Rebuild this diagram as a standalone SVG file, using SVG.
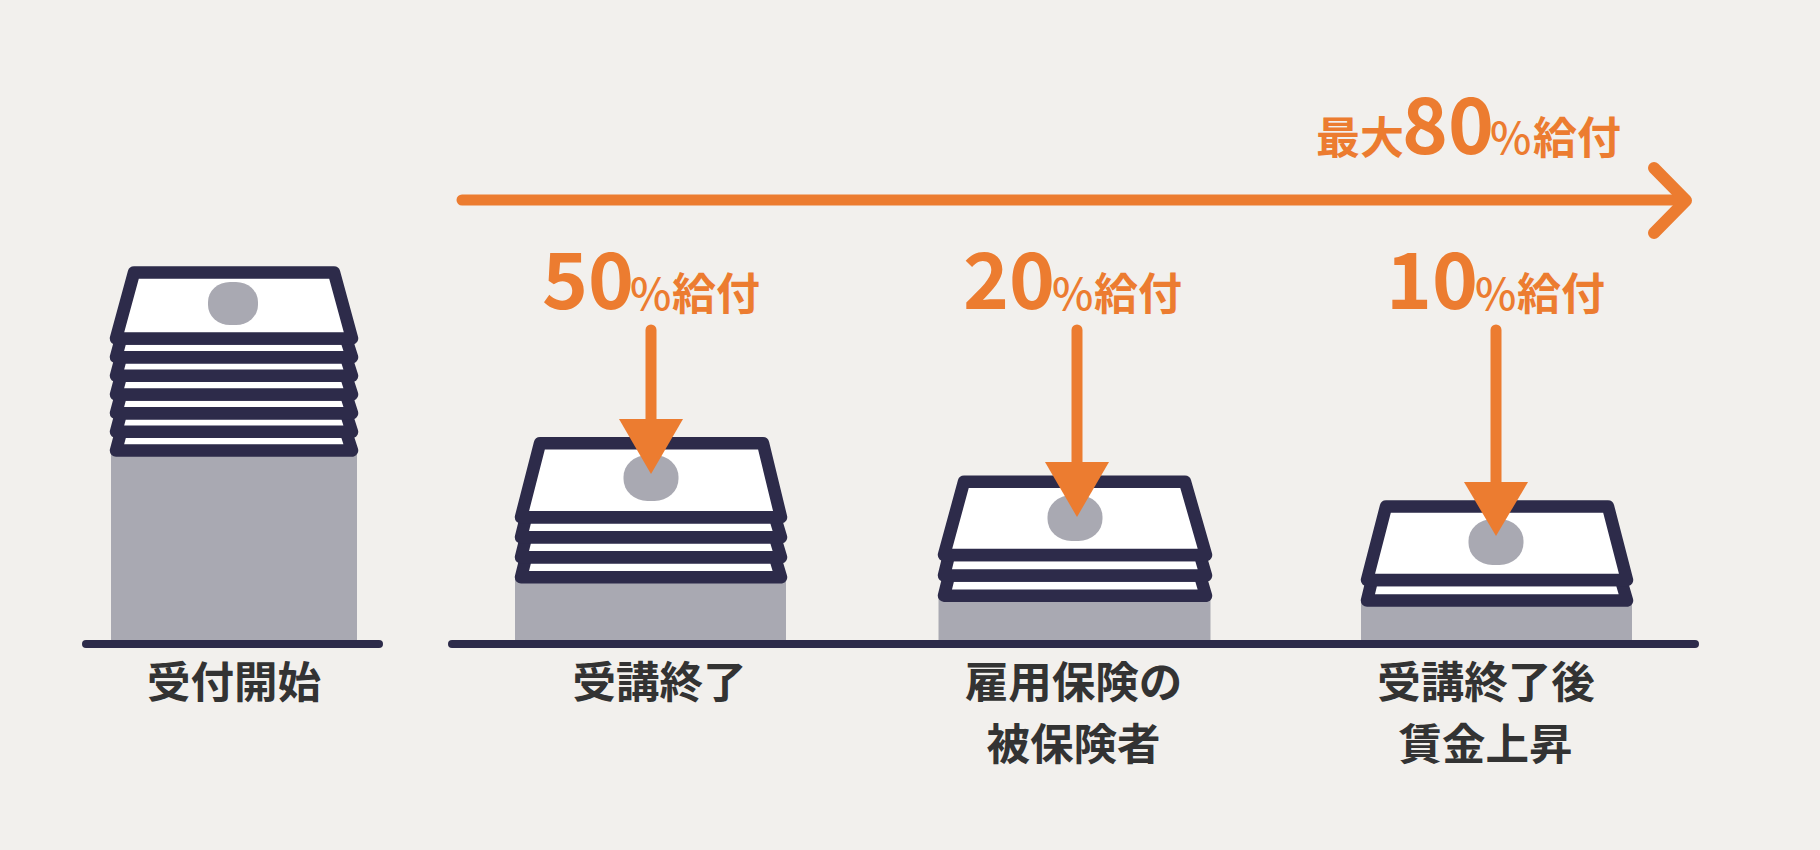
<svg xmlns="http://www.w3.org/2000/svg" width="1820" height="850" viewBox="0 0 1820 850">
<style>
.bg{fill:#f2f0ed}
.grey{fill:#a9a9b2}
.sheet{fill:#fff;stroke:#2d2b4a;stroke-width:12.5;stroke-linejoin:round}
.base{stroke:#2d2b4a;stroke-width:8;stroke-linecap:round;fill:none}
.or{stroke:#ec7c30;stroke-width:11;stroke-linecap:round;stroke-linejoin:round;fill:none}
.orf{fill:#ec7c30}
text{font-family:"Noto Sans CJK JP","Noto Sans",sans-serif}
.lab{font-size:43.5px;font-weight:700;fill:#333;text-anchor:middle}
.p{fill:#ec7c30;font-weight:700;font-size:44px}
.big{font-size:78px}
.pc{font-weight:500;font-size:44px}
</style>
<rect class="bg" width="1820" height="850"/>
<g id="stack-1">
<rect class="grey" x="111" y="450" width="246" height="192"/>
<path class="sheet" d="M121 431.800H346L352 450.500H116Z"/>
<path class="sheet" d="M121 413.200H346L352 431.800H116Z"/>
<path class="sheet" d="M121 394.500H346L352 413.200H116Z"/>
<path class="sheet" d="M121 375.800H346L352 394.500H116Z"/>
<path class="sheet" d="M121 357.200H346L352 375.800H116Z"/>
<path class="sheet" d="M121 338.500H346L352 357.200H116Z"/>
<path class="sheet" d="M134 272.500H334L352 338.500H116Z"/>
<rect class="grey" x="208" y="282" width="50" height="43" rx="22" ry="20"/>
<text class="lab" x="234" y="698">受付開始</text>
</g>
<g id="stack-2">
<rect class="grey" x="515" y="577" width="271" height="65"/>
<path class="sheet" d="M526 557.300H775L781 577.300H521Z"/>
<path class="sheet" d="M526 537.300H775L781 557.300H521Z"/>
<path class="sheet" d="M526 517.300H775L781 537.300H521Z"/>
<path class="sheet" d="M540 443.300H763L781 517.300H521Z"/>
<rect class="grey" x="623.500" y="455" width="55" height="46" rx="24" ry="22"/>
<text class="lab" x="659.500" y="698">受講終了</text>
</g>
<g id="stack-3">
<rect class="grey" x="938.500" y="596" width="272" height="46"/>
<path class="sheet" d="M949 575.500H1200L1206 595.700H944Z"/>
<path class="sheet" d="M949 555H1200L1206 575.500H944Z"/>
<path class="sheet" d="M964 481.700H1185L1206 555H944Z"/>
<rect class="grey" x="1047.500" y="495" width="55" height="46" rx="24" ry="22"/>
<text class="lab" x="1073.500" y="698">雇用保険の</text>
<text class="lab" x="1073.500" y="760">被保険者</text>
</g>
<g id="stack-4">
<rect class="grey" x="1361" y="600" width="271" height="42"/>
<path class="sheet" d="M1372 580H1621L1627 600.500H1367Z"/>
<path class="sheet" d="M1386 506.500H1608L1627 580H1367Z"/>
<rect class="grey" x="1468.500" y="519" width="55" height="46" rx="24" ry="22"/>
<text class="lab" x="1486" y="698">受講終了後</text>
<text class="lab" x="1485.500" y="760">賃金上昇</text>
</g>
<g id="connectors">
<path class="base" d="M86 644H379"/>
<path class="base" d="M452 644H1695"/>
<path class="or" d="M462 200H1684"/>
<path class="or" style="stroke-width:12" d="M1654 168L1686 200.500L1654 233"/>
<path class="or" d="M651 330V425"/>
<path class="orf" d="M619 419H683L651 474Z"/>
<path class="or" d="M1077 330V470"/>
<path class="orf" d="M1045 462H1109L1077 517Z"/>
<path class="or" d="M1496 330V488"/>
<path class="orf" d="M1464 482H1528L1496 536Z"/>
</g>
<g id="rates">
<text class="p" x="1316" y="154">最大</text><text class="p big" x="1402" y="154">80</text><text class="p pc" x="1490" y="154">%</text><text class="p" x="1533" y="154">給付</text>
<text class="p big" x="542" y="309">50</text><text class="p pc" x="630" y="310">%</text><text class="p" x="672" y="310">給付</text>
<text class="p big" x="963" y="309">20</text><text class="p pc" x="1052" y="310">%</text><text class="p" x="1094" y="310">給付</text>
<text class="p big" x="1386" y="309">10</text><text class="p pc" x="1475" y="310">%</text><text class="p" x="1517" y="310">給付</text>
</g>
</svg>
